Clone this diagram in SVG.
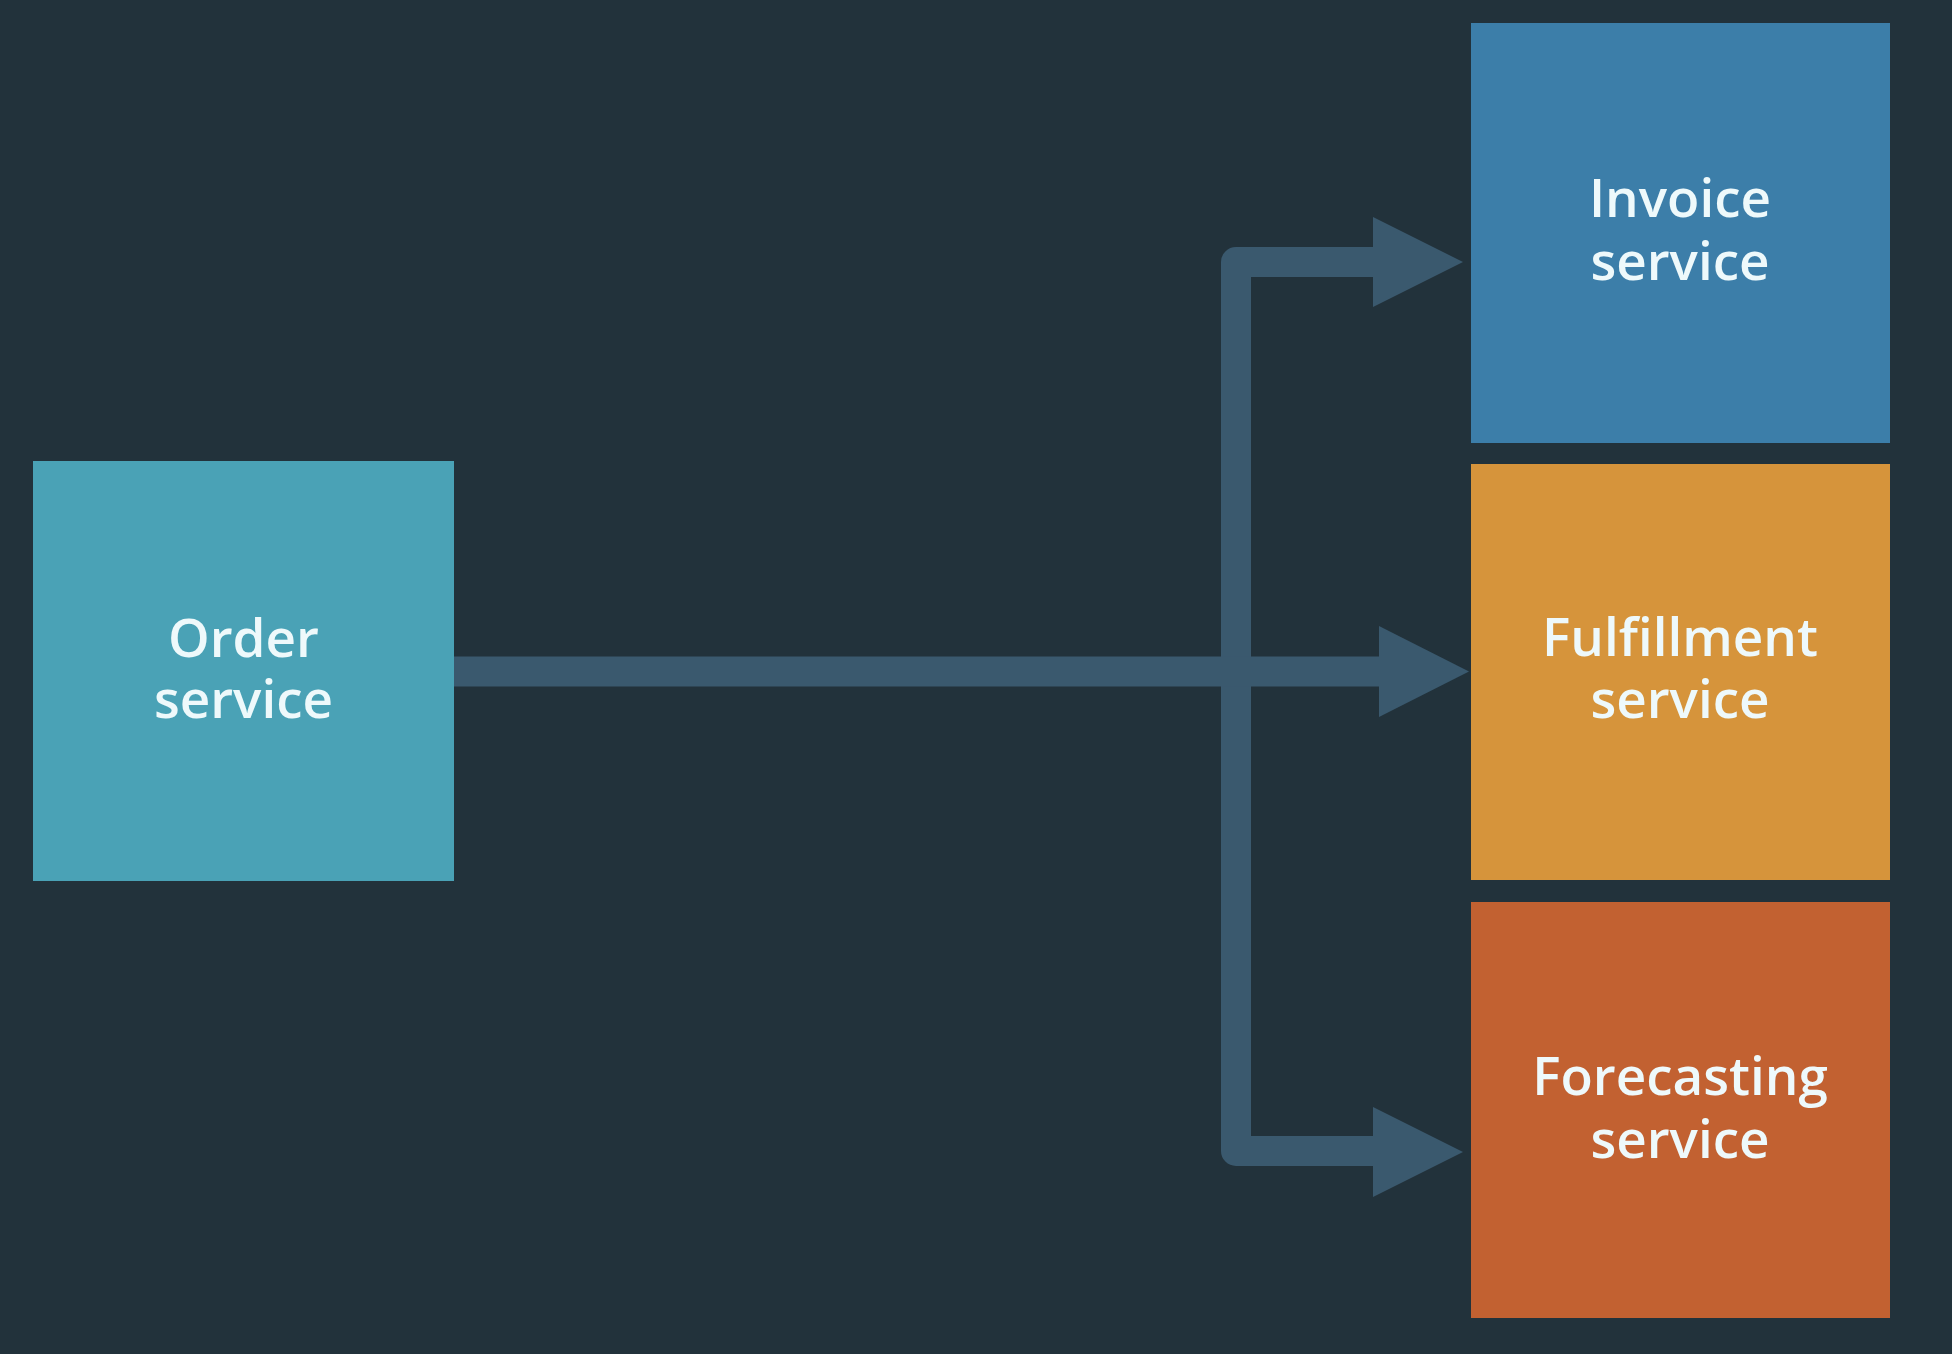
<svg xmlns="http://www.w3.org/2000/svg" width="1952" height="1354" viewBox="0 0 1952 1354">
  <style>
    .lbl { font-family: "Open Sans", "Noto Sans", "Liberation Sans", sans-serif; font-size: 53px; font-weight: 600; fill: #eef9fb; text-anchor: middle; }
    .conn { fill: none; stroke: #3a596e; stroke-width: 30; stroke-linejoin: round; }
    .head { fill: #3a596e; }
  </style>
  <rect x="0" y="0" width="1952" height="1354" fill="#22323b"/>
  <g id="connectors">
    <polyline class="conn" points="1375,262 1236,262 1236,1151 1375,1151"/>
    <polygon class="head" points="1373,217 1463,262 1373,307"/>
    <polygon class="head" points="1373,1107 1463,1152 1373,1197"/>
    <line class="conn" x1="453" y1="671.5" x2="1382" y2="671.5" stroke-width="29"/>
    <polygon class="head" points="1379,626 1469,671.5 1379,717"/>
  </g>
  <g id="order">
    <rect x="33" y="461" width="421" height="420" fill="#4aa2b6"/>
    <text class="lbl" x="243.5" y="657">Order<tspan x="243.5" dy="61">service</tspan></text>
  </g>
  <g id="invoice">
    <rect x="1471" y="23" width="419" height="420" fill="#3c7ea9"/>
    <text class="lbl" x="1680" y="217">Invoice<tspan x="1680" dy="63">service</tspan></text>
  </g>
  <g id="fulfillment">
    <rect x="1471" y="464" width="419" height="416" fill="#d6943b"/>
    <text class="lbl" x="1680" y="656">Fulfillment<tspan x="1680" dy="62">service</tspan></text>
  </g>
  <g id="forecasting">
    <rect x="1471" y="902" width="419" height="416" fill="#c26131"/>
    <text class="lbl" x="1680" y="1095">Forecasting<tspan x="1680" dy="63">service</tspan></text>
  </g>
</svg>
